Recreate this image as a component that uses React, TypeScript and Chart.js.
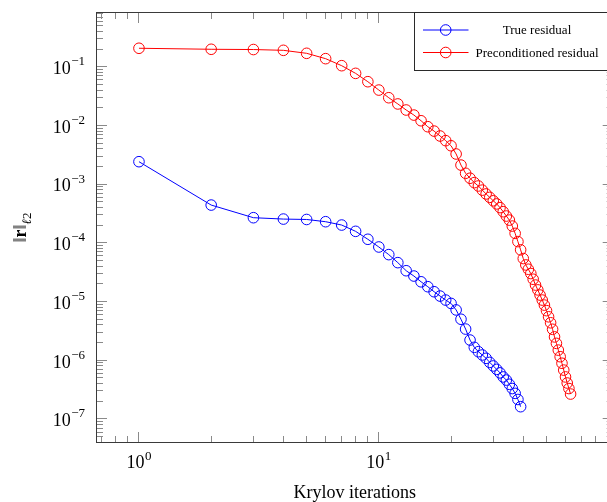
import React, { useEffect, useRef } from "react";
import { Chart, registerables } from "chart.js";

Chart.register(...registerables);

// ---------- data ----------
const seriesLabels = ["True residual", "Preconditioned residual"];
const seriesColors = ["#0000ff", "#ff0000"];

const trueIterations = [
  1, 2, 3, 4, 5, 6, 7, 8, 9, 10, 11, 12, 13, 14, 15, 16, 17, 18, 19, 20,
  21, 22, 23, 24, 25, 26, 27, 28, 29, 30, 31, 32, 33, 34, 35, 36, 37, 38, 39,
];
const trueResidual = [
  2.41e-3, 4.4e-4, 2.68e-4, 2.54e-4, 2.5e-4, 2.29e-4, 2.01e-4, 1.57e-4, 1.15e-4, 8.5e-5,
  6.3e-5, 4.6e-5, 3.35e-5, 2.72e-5, 2.17e-5, 1.79e-5, 1.47e-5, 1.24e-5, 1.06e-5, 9.3e-6,
  7.2e-6, 5.0e-6, 3.4e-6, 2.21e-6, 1.66e-6, 1.4e-6, 1.23e-6, 1.08e-6, 9.2e-7, 8.0e-7,
  7.0e-7, 6.1e-7, 5.2e-7, 4.6e-7, 3.9e-7, 3.3e-7, 2.73e-7, 2.15e-7, 1.62e-7,
];

const precIterations = [
  1, 2, 3, 4, 5, 6, 7, 8, 9, 10, 11, 12, 13, 14, 15, 16, 17, 18, 19, 20,
  21, 22, 23, 24, 25, 26, 27, 28, 29, 30, 31, 32, 33, 34, 35, 36, 37, 38, 39, 40,
  41, 42, 43, 44, 45, 46, 47, 48, 49, 50, 51, 52, 53, 54, 55, 56, 57, 58, 59, 60,
  61, 62, 63,
];
const precResidual = [
  0.206, 0.198, 0.196, 0.19, 0.169, 0.137, 0.104, 0.077, 0.0555, 0.04,
  0.0296, 0.0232, 0.0183, 0.015, 0.012, 0.0095, 0.008, 0.0066, 0.0055, 0.0045,
  3.26e-3, 2.11e-3, 1.53e-3, 1.26e-3, 1.06e-3, 9.3e-4, 7.9e-4, 6.8e-4, 5.95e-4, 5.2e-4,
  4.6e-4, 3.98e-4, 3.39e-4, 2.86e-4, 2.44e-4, 1.93e-4, 1.45e-4, 1.05e-4, 7.6e-5, 5.4e-5,
  4.2e-5, 3.55e-5, 3.0e-5, 2.4e-5, 1.91e-5, 1.58e-5, 1.29e-5, 1.06e-5, 8.7e-6, 7.0e-6,
  5.5e-6, 4.35e-6, 3.37e-6, 2.5e-6, 1.94e-6, 1.49e-6, 1.15e-6, 8.9e-7, 6.8e-7, 5.2e-7,
  4.1e-7, 3.3e-7, 2.66e-7,
];

// ---------- axes ----------
const xTitle = "Krylov iterations";
const xMajorTicks = [1, 10];
const xMajorExponents = [0, 1];
const yMajorTicks = [1e-7, 1e-6, 1e-5, 1e-4, 1e-3, 1e-2, 1e-1];
const yMajorExponents = [-7, -6, -5, -4, -3, -2, -1];
const minorMultipliers = [2, 3, 4, 5, 6, 7, 8, 9];
const xDecades = [0.1, 1, 10];
const yDecades = [1e-8, 1e-7, 1e-6, 1e-5, 1e-4, 1e-3, 1e-2, 1e-1];
const xMin = 0.662;
const xMax = 95.3;
const yMin = 3.9e-8;
const yMax = 0.854;

const SERIF = '"Liberation Serif", "Times New Roman", serif';

function drawPower(ctx: CanvasRenderingContext2D, exp: number, x: number, baseY: number, supY: number, align: "right" | "center") {
  const base = "10";
  const sup = exp < 0 ? "\u2212" + Math.abs(exp) : String(exp);
  ctx.font = `18px ${SERIF}`;
  const wb = ctx.measureText(base).width;
  ctx.font = `13px ${SERIF}`;
  const ws = ctx.measureText(sup).width;
  const total = wb + 0.5 + ws;
  const start = align === "right" ? x - total : x - total / 2;
  ctx.textAlign = "left";
  ctx.textBaseline = "alphabetic";
  ctx.fillStyle = "#000";
  ctx.font = `18px ${SERIF}`;
  ctx.fillText(base, start, baseY);
  ctx.font = `13px ${SERIF}`;
  ctx.fillText(sup, start + wb + 0.5, supY);
}

const decorPlugin = {
  id: "decor",
  afterDraw(chart: any) {
    const { ctx, chartArea: a, scales } = chart;
    const xs = scales.x;
    const ys = scales.y;
    ctx.save();

    const crisp = (p: number) => Math.round(p - 0.5) + 0.5;
    const seg = (x1: number, y1: number, x2: number, y2: number) => {
      ctx.beginPath();
      ctx.moveTo(x1, y1);
      ctx.lineTo(x2, y2);
      ctx.stroke();
    };

    // ticks (inside, on all four sides)
    ctx.strokeStyle = "#8a8a8a";
    ctx.lineWidth = 1;
    const xTick = (v: number, len: number) => {
      if (v < xMin || v > xMax) return;
      const p = crisp(xs.getPixelForValue(v));
      seg(p, a.bottom, p, a.bottom - len);
      seg(p, a.top, p, a.top + len);
    };
    const yTick = (v: number, len: number) => {
      if (v < yMin || v > yMax) return;
      const p = crisp(ys.getPixelForValue(v));
      seg(a.left, p, a.left + len, p);
      seg(a.right, p, a.right - len, p);
    };
    xDecades.forEach((d) => minorMultipliers.forEach((m) => xTick(d * m, 7)));
    yDecades.forEach((d) => minorMultipliers.forEach((m) => yTick(d * m, 7)));
    xMajorTicks.forEach((v) => xTick(v, 11));
    yMajorTicks.forEach((v) => yTick(v, 11));

    // frame
    ctx.strokeStyle = "#3a3a3a";
    ctx.lineWidth = 1;
    ctx.strokeRect(a.left + 0.5, a.top + 0.5, a.right - a.left - 1, a.bottom - a.top - 1);

    // tick labels
    xMajorTicks.forEach((v, i) => {
      const p = xs.getPixelForValue(v);
      drawPower(ctx, xMajorExponents[i], p, 468, 460, "center");
    });
    yMajorTicks.forEach((v, i) => {
      const p = ys.getPixelForValue(v);
      drawPower(ctx, yMajorExponents[i], 85, p + 7.3, p - 1.5, "right");
    });

    // y-axis title: ||r||_{l2}
    ctx.save();
    ctx.translate(26, (a.top + a.bottom) / 2);
    ctx.rotate(-Math.PI / 2);
    ctx.fillStyle = "#000";
    ctx.textBaseline = "alphabetic";
    ctx.textAlign = "left";
    const parts = [
      { t: "\u2016", f: `18px ${SERIF}`, dy: 0 },
      { t: "r", f: `bold 18px ${SERIF}`, dy: 0 },
      { t: "\u2016", f: `18px ${SERIF}`, dy: 0 },
      { t: "\u2113", f: `italic 13px ${SERIF}`, dy: 5 },
      { t: "2", f: `13px ${SERIF}`, dy: 5 },
    ];
    let total = 0;
    const widths = parts.map((p) => {
      ctx.font = p.f;
      const w = ctx.measureText(p.t).width;
      total += w;
      return w;
    });
    let cx = -total / 2;
    parts.forEach((p, i) => {
      ctx.font = p.f;
      ctx.fillText(p.t, cx, p.dy);
      cx += widths[i];
    });
    ctx.restore();

    // legend
    const lx = 414.5;
    const ly = a.top + 0.5;
    const lw = a.right - 0.5 - lx;
    const lh = 58;
    ctx.fillStyle = "#fff";
    ctx.fillRect(lx, ly, lw, lh);
    ctx.strokeStyle = "#2a2a2a";
    ctx.strokeRect(lx, ly, lw, lh);
    const rows = [30, 52.5];
    chart.data.datasets.forEach((ds: any, i: number) => {
      const y = rows[i];
      ctx.strokeStyle = ds.borderColor;
      ctx.lineWidth = 1;
      seg(423, y, 468.5, y);
      ctx.beginPath();
      ctx.arc(445.7, y, 5.3, 0, Math.PI * 2);
      ctx.stroke();
      ctx.fillStyle = "#000";
      ctx.font = `13px ${SERIF}`;
      ctx.textAlign = "center";
      ctx.textBaseline = "alphabetic";
      ctx.fillText(ds.label, 537, y + 4);
    });

    ctx.restore();
  },
};

export default function App() {
  const canvasRef = useRef<HTMLCanvasElement | null>(null);

  useEffect(() => {
    const canvas = canvasRef.current;
    if (!canvas) return;
    const makeDs = (xsArr: number[], ysArr: number[], i: number) => ({
      label: seriesLabels[i],
      data: xsArr.map((x, k) => ({ x, y: ysArr[k] })),
      borderColor: seriesColors[i],
      backgroundColor: "rgba(0,0,0,0)",
      borderWidth: 1,
      pointStyle: "circle",
      pointRadius: 5.3,
      pointHoverRadius: 5.3,
      pointBorderWidth: 1,
      pointBorderColor: seriesColors[i],
      pointBackgroundColor: "rgba(0,0,0,0)",
      fill: false,
      tension: 0,
      clip: 8,
    });
    const chart = new Chart(canvas, {
      type: "line",
      data: {
        datasets: [
          makeDs(trueIterations, trueResidual, 0),
          makeDs(precIterations, precResidual, 1),
        ],
      },
      options: {
        animation: false,
        responsive: false,
        maintainAspectRatio: false,
        devicePixelRatio: 1,
        layout: { padding: { top: 12, right: 6, bottom: 0, left: 0 } },
        plugins: { legend: { display: false }, tooltip: { enabled: false } },
        events: [],
        scales: {
          x: {
            type: "logarithmic",
            min: xMin,
            max: xMax,
            grid: { display: false },
            border: { display: false },
            ticks: { display: false },
            title: {
              display: true,
              text: xTitle,
              color: "#000",
              font: { family: SERIF, size: 18 },
              padding: { top: 0, bottom: -2.5 },
            },
            afterFit: (s: any) => {
              s.height = 59;
            },
          },
          y: {
            type: "logarithmic",
            min: yMin,
            max: yMax,
            grid: { display: false },
            border: { display: false },
            ticks: { display: false },
            afterFit: (s: any) => {
              s.width = 96;
            },
          },
        },
      } as any,
      plugins: [decorPlugin],
    });
    return () => chart.destroy();
  }, []);

  return (
    <div
      style={{
        position: "fixed",
        left: 0,
        top: 0,
        width: 607,
        height: 502,
        overflow: "hidden",
        background: "#fff",
      }}
    >
      <canvas ref={canvasRef} width={620} height={502} style={{ display: "block" }} />
    </div>
  );
}
